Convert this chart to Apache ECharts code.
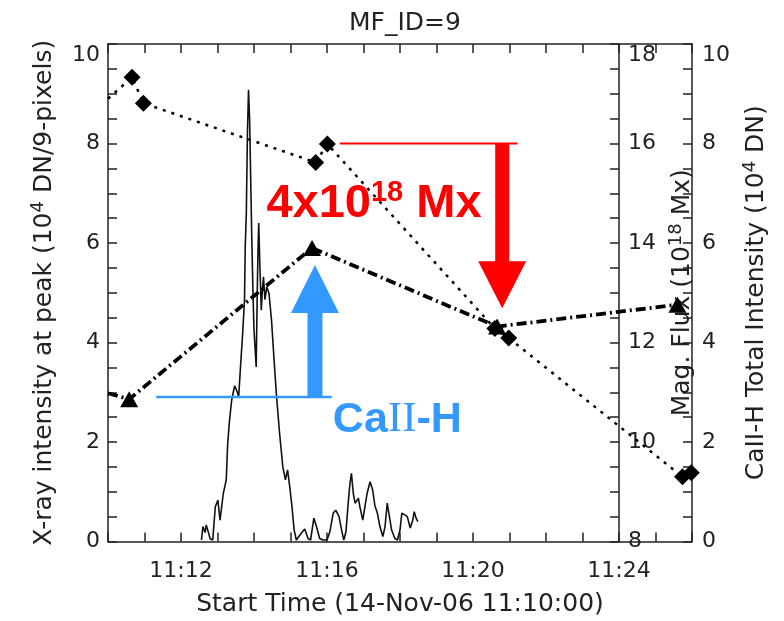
<!DOCTYPE html>
<html>
<head>
<meta charset="utf-8">
<title>MF_ID=9</title>
<script src="https://cdn.jsdelivr.net/npm/echarts@6/dist/echarts.min.js"></script>
<style>
  html, body { margin: 0; padding: 0; background: #fff; }
  #chart { width: 784px; height: 621px; }
</style>
</head>
<body>
<div id="chart"></div>
<script>
// all times are minutes after 11:10:00 (14-Nov-06)

// X-ray intensity at peak (10^4 DN/9-pixels), left axis
const xrayTime = [2.56, 2.60, 2.66, 2.69, 2.76, 2.80, 2.87, 2.94, 3.01, 3.07, 3.16, 3.24, 3.28, 3.33, 3.39,
  3.47, 3.54, 3.58, 3.63, 3.69, 3.74, 3.76, 3.79, 3.82, 3.85, 3.88, 3.91, 3.94, 3.97, 4.00, 4.06, 4.09,
  4.11, 4.13, 4.16, 4.20, 4.23, 4.26, 4.30, 4.35, 4.41, 4.48, 4.55, 4.61, 4.70, 4.79, 4.86, 4.92, 4.98,
  5.04, 5.10, 5.16, 5.21, 5.30, 5.39, 5.48, 5.55, 5.64, 5.71, 5.80, 5.89, 6.00, 6.08, 6.17, 6.24, 6.33,
  6.40, 6.46, 6.52, 6.58, 6.63, 6.67, 6.72, 6.77, 6.86, 6.90, 6.98, 7.04, 7.10, 7.18, 7.25, 7.31, 7.38,
  7.45, 7.53, 7.59, 7.65, 7.71, 7.77, 7.86, 7.93, 8.00, 8.05, 8.14, 8.20, 8.28, 8.35, 8.39, 8.44, 8.49];
const xrayValue = [0.03, 0.30, 0.18, 0.33, 0.16, 0.05, 0.03, 0.70, 0.83, 0.43, 0.97, 1.24, 1.98, 2.44, 2.85,
  3.13, 3.01, 2.91, 3.51, 4.19, 4.86, 5.93, 6.61, 8.21, 9.08, 8.47, 7.27, 6.06, 5.06, 4.25, 3.51, 5.06,
  5.86, 6.40, 5.56, 4.65, 5.06, 5.32, 4.86, 5.12, 4.99, 4.45, 3.65, 2.99, 2.18, 1.50, 1.24, 1.44, 1.10,
  0.70, 0.23, 0.03, 0.03, 0.17, 0.25, 0.06, 0.03, 0.47, 0.30, 0.06, 0.03, 0.03, 0.20, 0.57, 0.63, 0.50,
  0.23, 0.03, 0.20, 0.77, 1.17, 1.37, 0.97, 0.77, 0.87, 0.70, 0.43, 0.70, 0.97, 1.20, 1.04, 0.73, 0.57,
  0.30, 0.10, 0.30, 0.77, 0.50, 0.23, 0.06, 0.03, 0.23, 0.57, 0.53, 0.50, 0.27, 0.43, 0.60, 0.47, 0.40];

// magnetic flux (10^18 Mx), diamonds
const fluxTime = [0.66, 0.97, 5.69, 6.01, 10.60, 10.98, 15.74, 15.98];
const fluxValue = [17.33, 16.81, 15.62, 15.99, 12.28, 12.09, 9.30, 9.38];
const fluxAtStart = 16.9;   // where the dotted line enters the frame

// CaII-H total intensity (10^4 DN), triangles
const caTime = [0.58, 5.59, 10.66, 15.60];
const caValue = [2.86, 5.90, 4.32, 4.76];
const caAtStart = 2.98;

// annotations, in left-axis units
const redLine = [[6.35, 8.0], [11.22, 8.0]];
const redArrow = [10.80, 8.0, 4.69];     // t, from, tip
const blueLine = [[1.32, 2.906], [6.13, 2.906]];
const blueArrow = [5.67, 2.906, 5.56];
const redLabelAt = [4.34, 6.79];
const blueLabelAt = [6.16, 2.44];

const ink = '#222';
const font = 'DejaVu Sans';

function pairs(ts, vs) {
  return ts.map((t, i) => [t, vs[i]]);
}

function evenLabel(v) {
  return v % 2 === 0 ? String(v) : '';
}

let myChart = echarts.init(document.getElementById('chart'), null, { renderer: 'canvas' });

const tickStyle = { show: true, inside: true, length: 9, lineStyle: { color: ink, width: 1.5 } };

const yLabel = {
  color: ink, fontFamily: font, fontSize: 22, formatter: evenLabel,
  verticalAlignMaxLabel: 'top'
};

const yBase = {
  type: 'value',
  interval: 0.5,
  splitLine: { show: false },
  axisLine: { show: true, onZero: false, lineStyle: { color: ink, width: 1.5 } },
  axisTick: tickStyle,
  axisLabel: yLabel,
  nameLocation: 'middle',
  nameRotate: 90,
  nameTextStyle: {
    color: ink, fontFamily: font, fontSize: 25,
    rich: {
      b: { color: ink, fontFamily: font, fontSize: 25, lineHeight: 31 },
      sup: { color: ink, fontFamily: font, fontSize: 18, lineHeight: 18, verticalAlign: 'top' }
    }
  }
};

const xBase = {
  type: 'value',
  min: 0,
  max: 16,
  interval: 1,
  splitLine: { show: false },
  axisLine: { show: true, onZero: false, lineStyle: { color: ink, width: 1.5 } },
  axisTick: tickStyle
};

let option = {
  animation: false,
  backgroundColor: '#fff',
  title: {
    text: 'MF_ID=9',
    left: 400,
    top: 6,
    textAlign: 'center',
    textStyle: { color: ink, fontFamily: font, fontSize: 25, fontWeight: 'normal' }
  },
  grid: { left: 108, top: 44, width: 584, height: 497.5, outerBoundsMode: 'none' },
  xAxis: [
    Object.assign({}, xBase, {
      position: 'bottom',
      name: 'Start Time (14-Nov-06 11:10:00)',
      nameLocation: 'middle',
      nameGap: 50,
      nameTextStyle: { color: ink, fontFamily: font, fontSize: 25 },
      axisLabel: {
        color: ink, fontFamily: font, fontSize: 22, margin: 19,
        formatter: (v) => (v % 4 === 2 ? '11:' + String(10 + v).padStart(2, '0') : '')
      }
    }),
    Object.assign({}, xBase, { position: 'top', axisLabel: { show: false } })
  ],
  yAxis: [
    Object.assign({}, yBase, {
      position: 'left', min: 0, max: 10,
      name: '{b|X-ray intensity at peak (10}{sup|4}{b| DN/9-pixels)}',
      nameGap: 48
    }),
    Object.assign({}, yBase, {
      position: 'right', offset: -73, min: 8, max: 18,
      axisLabel: Object.assign({}, yLabel, { margin: 9 }),
      name: '{b|Mag. Flux (10}{sup|18}{b| Mx)}',
      nameGap: 44
    }),
    Object.assign({}, yBase, {
      position: 'right', min: 0, max: 10,
      axisLabel: Object.assign({}, yLabel, { margin: 10 }),
      name: '{b|CaII-H Total Intensity (10}{sup|4}{b| DN)}',
      nameGap: 47
    })
  ],
  series: [
    {
      name: 'xray',
      type: 'line',
      xAxisIndex: 0, yAxisIndex: 0,
      showSymbol: false,
      lineStyle: { color: '#111', width: 1.6 },
      data: pairs(xrayTime, xrayValue),
      z: 2
    },
    {
      name: 'flux',
      type: 'line',
      xAxisIndex: 0, yAxisIndex: 1,
      symbol: 'diamond',
      symbolSize: 17,
      itemStyle: { color: '#000' },
      lineStyle: { color: '#000', width: 2.5, type: [3, 6] },
      data: [{ value: [0, fluxAtStart], symbol: 'none' }].concat(pairs(fluxTime, fluxValue)),
      z: 3
    },
    {
      name: 'caii',
      type: 'line',
      xAxisIndex: 0, yAxisIndex: 2,
      symbol: 'triangle',
      symbolSize: [18, 16],
      itemStyle: { color: '#000' },
      lineStyle: { color: '#000', width: 3.8, type: [10, 4, 2, 4] },
      data: [{ value: [0, caAtStart], symbol: 'none' }].concat(pairs(caTime, caValue)),
      z: 3
    }
  ]
};

myChart.setOption(option);

// annotation overlay, placed through the axes
function px(p) {
  return myChart.convertToPixel({ xAxisIndex: 0, yAxisIndex: 0 }, p);
}

function arrowShape(spec, shaft, head, headLen) {
  const base = px([spec[0], spec[1]]);
  const tip = px([spec[0], spec[2]]);
  const dir = tip[1] > base[1] ? 1 : -1;
  const neck = tip[1] - dir * headLen;
  const x = base[0];
  return [
    [x - shaft / 2, base[1]], [x + shaft / 2, base[1]], [x + shaft / 2, neck],
    [x + head / 2, neck], [x, tip[1]], [x - head / 2, neck], [x - shaft / 2, neck]
  ];
}

function annotate() {
  const red = '#ff0000';
  const blue = '#3399ff';
  const rl = redLine.map(px);
  const bl = blueLine.map(px);
  const rt = px(redLabelAt);
  const bt = px(blueLabelAt);
  myChart.setOption({
    graphic: [
      { type: 'line', shape: { x1: rl[0][0], y1: rl[0][1], x2: rl[1][0], y2: rl[1][1] },
        style: { stroke: red, lineWidth: 2 }, z: 10 },
      { type: 'polygon', shape: { points: arrowShape(redArrow, 14, 48, 47) },
        style: { fill: red }, z: 10 },
      { type: 'line', shape: { x1: bl[0][0], y1: bl[0][1], x2: bl[1][0], y2: bl[1][1] },
        style: { stroke: blue, lineWidth: 2.5 }, z: 10 },
      { type: 'polygon', shape: { points: arrowShape(blueArrow, 15, 48, 48) },
        style: { fill: blue }, z: 10 },
      { type: 'text', x: rt[0], y: rt[1], z: 11,
        style: {
          text: '{a|4x10}{s|18}{a| Mx}', align: 'left', verticalAlign: 'middle',
          rich: {
            a: { fill: red, fontFamily: 'Liberation Sans', fontWeight: 'bold', fontSize: 47, lineHeight: 50 },
            s: { fill: red, fontFamily: 'Liberation Sans', fontWeight: 'bold', fontSize: 29, lineHeight: 31, verticalAlign: 'top' }
          }
        } },
      { type: 'text', x: bt[0], y: bt[1], z: 11,
        style: {
          text: '{a|Ca}{r|II}{a|-H}', align: 'left', verticalAlign: 'middle',
          rich: {
            a: { fill: blue, fontFamily: 'Liberation Sans', fontWeight: 'bold', fontSize: 43, lineHeight: 46 },
            r: { fill: blue, fontFamily: 'Liberation Serif', fontWeight: 'normal', fontSize: 43, lineHeight: 46 }
          }
        } }
    ]
  });
}

annotate();
</script>
</body>
</html>
